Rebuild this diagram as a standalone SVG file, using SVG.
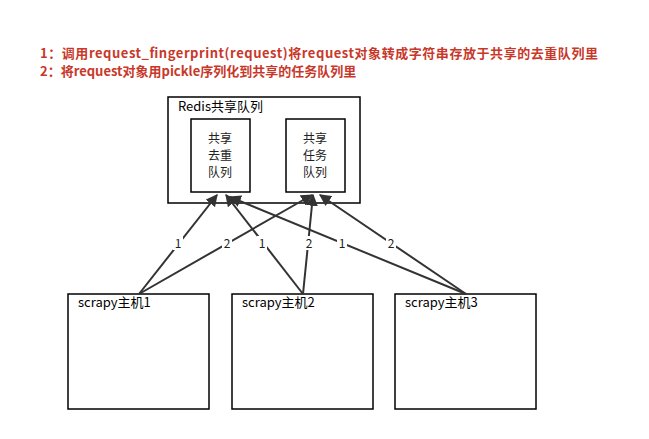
<svg xmlns="http://www.w3.org/2000/svg" width="649" height="439" viewBox="0 0 649 439">
<style>
.box{fill:#fff;stroke:#000;stroke-width:1.5}
.t{font-family:"Noto Sans CJK SC",sans-serif;font-size:13px;fill:#000}
.n{font-family:"Noto Sans CJK SC",sans-serif;font-size:12px;fill:#222;text-anchor:middle}
.red{font-family:"Noto Sans CJK SC",sans-serif;font-size:13px;font-weight:bold;fill:#c8382a}
.c{stroke:#333;stroke-width:2;fill:none;marker-end:url(#a)}
.lb{fill:#fff}
</style>
<defs><marker id="a" viewBox="0 0 10 10" refX="9" refY="5" markerWidth="6" markerHeight="6" orient="auto"><path d="M0,0L10,5L0,10z" fill="#333"/></marker></defs>
<rect width="649" height="439" fill="#fff"/>
<text class="red" x="40" y="58" textLength="558">1：调用request_fingerprint(request)将request对象转成字符串存放于共享的去重队列里</text>
<text class="red" x="40" y="76">2：将request对象用pickle序列化到共享的任务队列里</text>
<g id="redis"><rect class="box" x="168" y="97" width="192" height="106"/><text class="t" x="178" y="111">Redis共享队列</text></g>
<g id="dedup"><rect class="box" x="191" y="119" width="59" height="73"/><text class="n" x="220" y="143">共享</text><text class="n" x="220" y="160">去重</text><text class="n" x="220" y="177">队列</text></g>
<g id="task"><rect class="box" x="286" y="119" width="59" height="73"/><text class="n" x="315" y="143">共享</text><text class="n" x="315" y="160">任务</text><text class="n" x="315" y="177">队列</text></g>
<g id="h1"><rect class="box" x="68" y="294" width="141" height="115"/><text class="t" x="78" y="307">scrapy主机1</text></g>
<g id="h2"><rect class="box" x="232" y="294" width="141" height="115"/><text class="t" x="242" y="307">scrapy主机2</text></g>
<g id="h3"><rect class="box" x="395" y="294" width="141" height="115"/><text class="t" x="405" y="307">scrapy主机3</text></g>
<g id="connectors">
<path class="c" d="M139,294L217,195"/>
<path class="c" d="M139,294L312,195"/>
<path class="c" d="M303,294L226,195"/>
<path class="c" d="M303,294L313,195"/>
<path class="c" d="M466,294L230,197"/>
<path class="c" d="M466,294L320,195"/>
<rect class="lb" x="173" y="236" width="10" height="14"/><text class="n" x="178" y="248">1</text>
<rect class="lb" x="222" y="236" width="10" height="14"/><text class="n" x="227" y="248">2</text>
<rect class="lb" x="257" y="236" width="10" height="14"/><text class="n" x="262" y="248">1</text>
<rect class="lb" x="304" y="236" width="10" height="14"/><text class="n" x="309" y="248">2</text>
<rect class="lb" x="337" y="236" width="10" height="14"/><text class="n" x="342" y="248">1</text>
<rect class="lb" x="386" y="236" width="10" height="14"/><text class="n" x="391" y="248">2</text>
</g>
</svg>
